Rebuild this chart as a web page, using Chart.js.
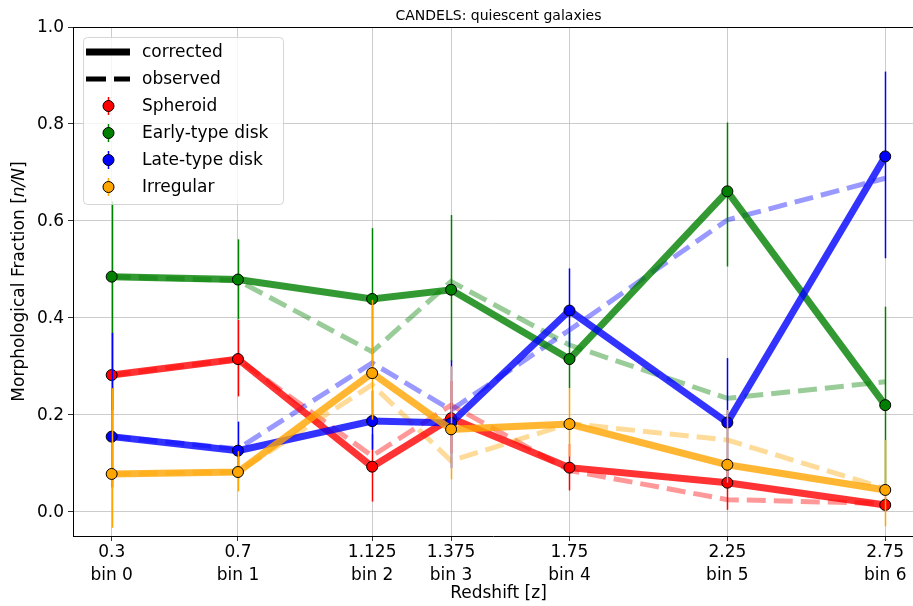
<!DOCTYPE html>
<html>
<head>
<meta charset="utf-8">
<script src="https://cdn.jsdelivr.net/npm/chart.js@4.4.1/dist/chart.umd.min.js"></script>
<style>
  html, body { margin: 0; padding: 0; background: #fff; }
  #wrap { width: 913px; height: 606px; }
</style>
</head>
<body>
<div id="wrap"><canvas id="morphChart" width="913" height="606"></canvas></div>
<script>
// redshift bins
const redshift = [0.3, 0.7, 1.125, 1.375, 1.75, 2.25, 2.75];
const redshiftLabels = ['0.3', '0.7', '1.125', '1.375', '1.75', '2.25', '2.75'];
const binLabels = ['bin 0', 'bin 1', 'bin 2', 'bin 3', 'bin 4', 'bin 5', 'bin 6'];
const yTicks = [0, 0.2, 0.4, 0.6, 0.8, 1.0];

// corrected fractions (solid lines + markers)
const spheroidCorrected = [0.282, 0.315, 0.093, 0.193, 0.091, 0.060, 0.014];
const earlyDiskCorrected = [0.485, 0.479, 0.439, 0.458, 0.315, 0.661, 0.220];
const lateDiskCorrected = [0.155, 0.126, 0.187, 0.183, 0.415, 0.184, 0.733];
const irregularCorrected = [0.078, 0.082, 0.286, 0.170, 0.181, 0.097, 0.045];

// observed fractions (dashed lines)
const spheroidObserved = [0.282, 0.315, 0.115, 0.220, 0.085, 0.025, 0.017];
const earlyDiskObserved = [0.485, 0.477, 0.330, 0.475, 0.344, 0.234, 0.268];
const lateDiskObserved = [0.155, 0.130, 0.307, 0.210, 0.375, 0.602, 0.688];
const irregularObserved = [0.078, 0.082, 0.262, 0.105, 0.182, 0.148, 0.048];

// error bar ends (lower / upper)
const spheroidLow = [0.210, 0.238, 0.021, 0.120, 0.044, 0.004, 0.000];
const spheroidHigh = [0.360, 0.396, 0.160, 0.270, 0.140, 0.110, 0.030];
const earlyDiskLow = [0.360, 0.397, 0.300, 0.310, 0.255, 0.506, 0.040];
const earlyDiskHigh = [0.640, 0.562, 0.585, 0.612, 0.370, 0.803, 0.423];
const lateDiskLow = [0.050, 0.070, 0.128, 0.090, 0.340, 0.060, 0.523];
const lateDiskHigh = [0.369, 0.186, 0.250, 0.312, 0.502, 0.317, 0.908];
const irregularLow = [-0.033, 0.042, 0.190, 0.067, 0.114, 0.060, -0.030];
const irregularHigh = [0.255, 0.125, 0.437, 0.300, 0.255, 0.210, 0.148];

const series = [
  { name: 'Spheroid', color: [255, 0, 0], corrected: spheroidCorrected, observed: spheroidObserved, low: spheroidLow, high: spheroidHigh },
  { name: 'Early-type disk', color: [0, 128, 0], corrected: earlyDiskCorrected, observed: earlyDiskObserved, low: earlyDiskLow, high: earlyDiskHigh },
  { name: 'Late-type disk', color: [0, 0, 255], corrected: lateDiskCorrected, observed: lateDiskObserved, low: lateDiskLow, high: lateDiskHigh },
  { name: 'Irregular', color: [255, 165, 0], corrected: irregularCorrected, observed: irregularObserved, low: irregularLow, high: irregularHigh }
];

const FONT = 'DejaVu Sans';
const rgba = (c, a) => `rgba(${c[0]},${c[1]},${c[2]},${a})`;
const toPoints = vals => redshift.map((z, i) => ({ x: z, y: vals[i] }));

const datasets = [];
series.forEach(s => {
  datasets.push({
    label: s.name + ' observed',
    data: toPoints(s.observed),
    borderColor: rgba(s.color, 0.4),
    borderWidth: 5,
    borderDash: [19, 8],
    borderCapStyle: 'butt',
    pointRadius: 0,
    tension: 0,
    fill: false
  });
});
series.forEach(s => {
  datasets.push({
    label: s.name,
    data: toPoints(s.corrected),
    borderColor: rgba(s.color, 0.8),
    borderWidth: 7,
    pointRadius: 5.5,
    pointBackgroundColor: rgba(s.color, 1),
    pointBorderColor: '#000',
    pointBorderWidth: 1,
    tension: 0,
    fill: false,
    errLow: s.low,
    errHigh: s.high,
    errColor: rgba(s.color, 1)
  });
});
// later datasets on top
datasets.forEach((d, i) => { d.order = datasets.length - i; });

const errorBars = {
  id: 'errorBars',
  beforeDatasetDraw(chart, args) {
    const ds = chart.data.datasets[args.index];
    if (!ds.errLow) return;
    const { ctx, scales: { x, y } } = chart;
    ctx.save();
    ctx.strokeStyle = ds.errColor;
    ctx.lineWidth = 1.5;
    redshift.forEach((z, i) => {
      const px = Math.round(x.getPixelForValue(z)) + 0.5;
      ctx.beginPath();
      ctx.moveTo(px, y.getPixelForValue(ds.errLow[i]));
      ctx.lineTo(px, y.getPixelForValue(ds.errHigh[i]));
      ctx.stroke();
    });
    ctx.restore();
  }
};

const decorations = {
  id: 'decorations',
  afterDraw(chart) {
    const { ctx, chartArea: a } = chart;
    const midX = 498.5;
    ctx.save();
    // top spine
    ctx.strokeStyle = '#000';
    ctx.lineWidth = 1;
    ctx.beginPath();
    ctx.moveTo(a.left, Math.round(a.top) + 0.5);
    ctx.lineTo(a.right, Math.round(a.top) + 0.5);
    ctx.stroke();

    // title
    ctx.fillStyle = '#000';
    ctx.textAlign = 'center';
    ctx.textBaseline = 'middle';
    ctx.font = `14px "${FONT}"`;
    ctx.fillText('CANDELS: quiescent galaxies', midX, 16);

    // x axis title
    ctx.font = `17px "${FONT}"`;
    ctx.fillText('Redshift [z]', midX, 594);

    // y axis title with italic n/N
    const parts = [['Morphological Fraction [', false], ['n/N', true], [']', false]];
    let total = 0;
    parts.forEach(p => {
      ctx.font = `${p[1] ? 'italic ' : ''}17px "${FONT}"`;
      total += ctx.measureText(p[0]).width;
    });
    ctx.translate(20, (a.top + a.bottom) / 2);
    ctx.rotate(-Math.PI / 2);
    ctx.textAlign = 'left';
    let cx = -total / 2;
    parts.forEach(p => {
      ctx.font = `${p[1] ? 'italic ' : ''}17px "${FONT}"`;
      ctx.fillText(p[0], cx, 0);
      cx += ctx.measureText(p[0]).width;
    });
    ctx.setTransform(1, 0, 0, 1, 0, 0);

    // legend
    const lx = 83, ly = 37, lw = 200, lh = 167;
    ctx.beginPath();
    ctx.roundRect(lx + 0.5, ly + 0.5, lw, lh, 4);
    ctx.fillStyle = 'rgba(255,255,255,0.8)';
    ctx.fill();
    ctx.strokeStyle = 'rgba(204,204,204,0.8)';
    ctx.lineWidth = 1;
    ctx.stroke();

    const rows = [52, 79, 106, 133, 160, 187];
    ctx.strokeStyle = '#000';
    ctx.lineCap = 'butt';
    ctx.lineWidth = 7;
    ctx.beginPath();
    ctx.moveTo(86, rows[0]); ctx.lineTo(130, rows[0]);
    ctx.stroke();
    ctx.lineWidth = 5;
    ctx.setLineDash([20, 8]);
    ctx.beginPath();
    ctx.moveTo(86, rows[1]); ctx.lineTo(130, rows[1]);
    ctx.stroke();
    ctx.setLineDash([]);

    series.forEach((s, i) => {
      const ry = rows[i + 2];
      ctx.strokeStyle = rgba(s.color, 1);
      ctx.lineWidth = 1.5;
      ctx.beginPath();
      ctx.moveTo(108.5, ry - 9); ctx.lineTo(108.5, ry + 9);
      ctx.stroke();
      ctx.beginPath();
      ctx.arc(108.5, ry, 5.5, 0, Math.PI * 2);
      ctx.fillStyle = rgba(s.color, 1);
      ctx.fill();
      ctx.strokeStyle = '#000';
      ctx.lineWidth = 1;
      ctx.stroke();
    });

    ctx.fillStyle = '#000';
    ctx.font = `17px "${FONT}"`;
    ctx.textAlign = 'left';
    ctx.textBaseline = 'middle';
    const names = ['corrected', 'observed'].concat(series.map(s => s.name));
    names.forEach((n, i) => ctx.fillText(n, 142, rows[i] + 1));
    ctx.restore();
  }
};

const gridColor = 'rgba(176,176,176,0.65)';

new Chart(document.getElementById('morphChart'), {
  type: 'line',
  data: { datasets },
  options: {
    responsive: false,
    animation: false,
    devicePixelRatio: 1,
    events: [],
    layout: { autoPadding: false, padding: { top: 27, right: 0, left: 0, bottom: 0 } },
    plugins: {
      legend: { display: false },
      title: { display: false },
      tooltip: { enabled: false }
    },
    scales: {
      x: {
        type: 'linear',
        min: 0.1775,
        max: 2.838,
        afterBuildTicks: axis => { axis.ticks = redshift.map(v => ({ value: v })); },
        afterFit: scale => { scale.height = 70; },
        ticks: {
          autoSkip: false,
          maxRotation: 0,
          padding: 0,
          color: '#000',
          font: { family: FONT, size: 17, lineHeight: 1.35 },
          callback: (v, i) => [redshiftLabels[i], binLabels[i]]
        },
        grid: { color: gridColor, tickColor: '#333', tickLength: 5, lineWidth: 1 },
        border: { color: '#000', width: 1 }
      },
      y: {
        min: -0.05,
        max: 1.0,
        afterBuildTicks: axis => { axis.ticks = yTicks.map(v => ({ value: v })); },
        afterFit: scale => { scale.width = 73; },
        ticks: {
          padding: 4,
          labelOffset: 1,
          color: '#000',
          font: { family: FONT, size: 17 },
          callback: v => v.toFixed(1)
        },
        grid: { color: gridColor, tickColor: '#333', tickLength: 5, lineWidth: 1 },
        border: { color: '#000', width: 1 }
      }
    }
  },
  plugins: [errorBars, decorations]
});
</script>
</body>
</html>
